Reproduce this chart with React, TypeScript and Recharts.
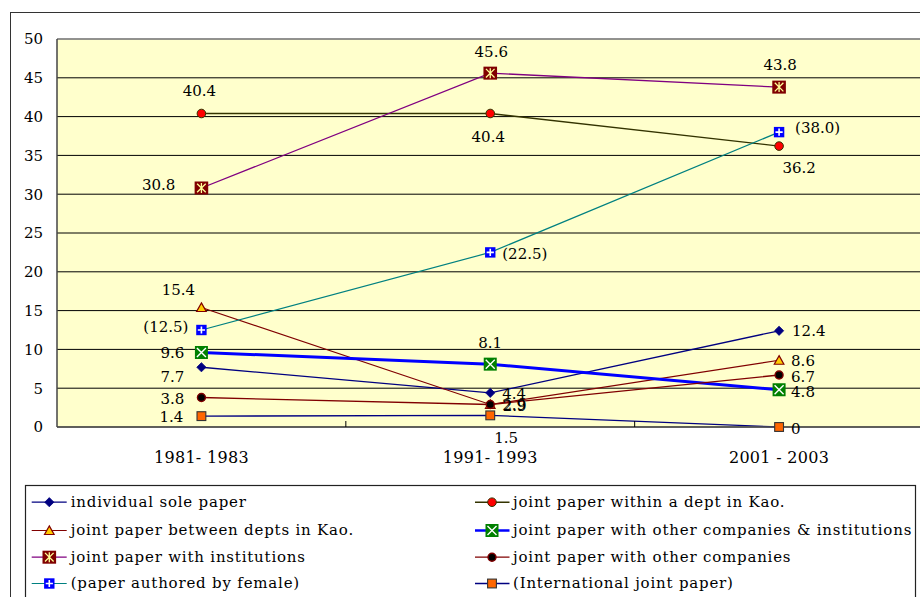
import React from "react";
import { LineChart, Line, XAxis, YAxis, CartesianGrid, ReferenceLine } from "recharts";

// periods on the category axis
const periods = ["1981- 1983", "1991- 1993", "2001 - 2003"];

// share of papers (%) per period
const individualSole = [7.7, 4.4, 12.4];
const withinDept = [40.4, 40.4, 36.2];
const betweenDepts = [15.4, 2.9, 8.6];
const otherCompaniesAndInstitutions = [9.6, 8.1, 4.8];
const withInstitutions = [30.8, 45.6, 43.8];
const otherCompanies = [3.8, 2.9, 6.7];
const femaleAuthored = [12.5, 22.5, 38.0];
const international = [1.4, 1.5, 0];

const yTicks = [0, 5, 10, 15, 20, 25, 30, 35, 40, 45, 50];

const FONT = "'DejaVu Serif', serif";
const W = 940;
const H = 597;
const MARGIN = { top: 39, right: 16.5, bottom: 130, left: 0 };
const Y_AXIS_W = 57;
const BAND = (W - MARGIN.left - MARGIN.right - Y_AXIS_W) / periods.length;

type Shape = "diamond" | "redCircle" | "triangle" | "xSquare" | "starSquare" | "blackCircle" | "plusSquare" | "square";
type Place = { dx: number; dy: number; anchor: "start" | "middle" | "end" };

interface Series {
  key: string;
  name: string;
  values: number[];
  color: string;
  width: number;
  shape: Shape;
  paren?: boolean;
  labels: Place[];
}

const series: Series[] = [
  {
    key: "individual", name: "individual sole paper", values: individualSole,
    color: "#000080", width: 1.3, shape: "diamond",
    labels: [{ dx: -29, dy: 15, anchor: "middle" }, { dx: 12, dy: 6.5, anchor: "start" }, { dx: 13, dy: 5.5, anchor: "start" }],
  },
  {
    key: "withinDept", name: "joint paper within a dept in Kao.", values: withinDept,
    color: "#333300", width: 1.4, shape: "redCircle",
    labels: [{ dx: -2, dy: -17.5, anchor: "middle" }, { dx: -2, dy: 29, anchor: "middle" }, { dx: 20, dy: 26.5, anchor: "middle" }],
  },
  {
    key: "betweenDepts", name: "joint paper between depts in Kao.", values: betweenDepts,
    color: "#800000", width: 1.2, shape: "triangle",
    labels: [{ dx: -23, dy: -12, anchor: "middle" }, { dx: 12, dy: 6, anchor: "start" }, { dx: 12, dy: 6, anchor: "start" }],
  },
  {
    key: "otherCoInst", name: "joint paper with other companies & institutions", values: otherCompaniesAndInstitutions,
    color: "#0000FF", width: 3, shape: "xSquare",
    labels: [{ dx: -17, dy: 5.5, anchor: "end" }, { dx: 0, dy: -16, anchor: "middle" }, { dx: 12, dy: 7, anchor: "start" }],
  },
  {
    key: "institutions", name: "joint paper with institutions", values: withInstitutions,
    color: "#800080", width: 1.3, shape: "starSquare",
    labels: [{ dx: -26, dy: 2.5, anchor: "end" }, { dx: 1, dy: -16, anchor: "middle" }, { dx: 1, dy: -17, anchor: "middle" }],
  },
  {
    key: "otherCompanies", name: "joint paper with other companies", values: otherCompanies,
    color: "#800000", width: 1.3, shape: "blackCircle",
    labels: [{ dx: -17, dy: 6, anchor: "end" }, { dx: 12.5, dy: 6.5, anchor: "start" }, { dx: 12, dy: 6.5, anchor: "start" }],
  },
  {
    key: "female", name: "(paper authored by female)", values: femaleAuthored,
    color: "#008080", width: 1.2, shape: "plusSquare", paren: true,
    labels: [{ dx: -13, dy: 2, anchor: "end" }, { dx: 12, dy: 6.5, anchor: "start" }, { dx: 16, dy: 1, anchor: "start" }],
  },
  {
    key: "international", name: "(International joint paper)", values: international,
    color: "#000080", width: 1.3, shape: "square",
    labels: [{ dx: -18, dy: 6, anchor: "end" }, { dx: 16, dy: 27.5, anchor: "middle" }, { dx: 12, dy: 6.5, anchor: "start" }],
  },
];

const data = periods.map((period, i) => {
  const row: Record<string, string | number> = { period };
  series.forEach((s) => {
    row[s.key] = s.values[i];
  });
  return row;
});

function Marker({ shape, cx, cy }: { shape: Shape; cx: number; cy: number }) {
  switch (shape) {
    case "diamond":
      return (
        <polygon
          points={`${cx},${cy - 4.6} ${cx + 4.6},${cy} ${cx},${cy + 4.6} ${cx - 4.6},${cy}`}
          fill="#000080"
          stroke="#000080"
          strokeWidth={0.8}
        />
      );
    case "redCircle":
      return <circle cx={cx} cy={cy} r={4.3} fill="#FF0000" stroke="#333300" strokeWidth={1} />;
    case "triangle":
      return (
        <polygon
          points={`${cx},${cy - 4.6} ${cx + 4.8},${cy + 4} ${cx - 4.8},${cy + 4}`}
          fill="#FFCC00"
          stroke="#800000"
          strokeWidth={1.2}
        />
      );
    case "xSquare":
      return (
        <g>
          <rect x={cx - 6.5} y={cy - 6.5} width={13} height={13} fill="#008000" />
          <path
            d={`M${cx - 4.5},${cy - 4.5}L${cx + 4.5},${cy + 4.5}M${cx + 4.5},${cy - 4.5}L${cx - 4.5},${cy + 4.5}`}
            stroke="#FFFFFF"
            strokeWidth={1.4}
          />
        </g>
      );
    case "starSquare":
      return (
        <g>
          <rect x={cx - 6.8} y={cy - 6.5} width={13.6} height={13} fill="#800000" />
          <path
            d={`M${cx - 4.3},${cy - 4.3}L${cx + 4.3},${cy + 4.3}M${cx + 4.3},${cy - 4.3}L${cx - 4.3},${cy + 4.3}M${cx},${cy - 5}L${cx},${cy + 5}`}
            stroke="#FFFF99"
            strokeWidth={1.3}
          />
        </g>
      );
    case "blackCircle":
      return <circle cx={cx} cy={cy} r={4} fill="#000000" stroke="#800000" strokeWidth={1.4} />;
    case "plusSquare":
      return (
        <g>
          <rect x={cx - 5.2} y={cy - 5.2} width={10.4} height={10.4} fill="#0000FF" />
          <path
            d={`M${cx - 3.6},${cy}L${cx + 3.6},${cy}M${cx},${cy - 3.6}L${cx},${cy + 3.6}`}
            stroke="#FFFFFF"
            strokeWidth={1.6}
          />
        </g>
      );
    default:
      return (
        <rect x={cx - 4.4} y={cy - 4.4} width={8.8} height={8.8} fill="#FF6600" stroke="#333333" strokeWidth={1.1} />
      );
  }
}

const formatValue = (s: Series, v: number) => {
  const t = v === 0 ? "0" : v.toFixed(1);
  return s.paren ? `(${t})` : t;
};

const makeDot = (s: Series) => (props: any) => {
  const { cx, cy, index } = props;
  if (cx == null || cy == null) return <g key={`${s.key}-${index}`} />;
  const place = s.labels[index];
  return (
    <g key={`${s.key}-${index}`}>
      <Marker shape={s.shape} cx={cx} cy={cy} />
      <text
        x={cx + place.dx}
        y={cy + place.dy}
        textAnchor={place.anchor}
        fontFamily={FONT}
        fontSize={15}
        fill="#000"
      >
        {formatValue(s, s.values[index])}
      </text>
    </g>
  );
};

// category labels centred under each band, tick marks on the band edges pointing inward
const PeriodTick = (props: any) => {
  const { x, y, payload } = props;
  const edge = x + BAND / 2;
  return (
    <g>
      <line x1={edge} y1={y} x2={edge} y2={y - 6} stroke="#000" strokeWidth={1} />
      <text
        x={x}
        y={y + 35.5}
        textAnchor="middle"
        fontFamily={FONT}
        fontSize={16}
        letterSpacing={0.3}
        fill="#000"
      >
        {payload.value}
      </text>
    </g>
  );
};

// two-column legend box below the plot
function LegendBox() {
  const baselines = [506.7, 535, 561.7, 588];
  const cols = [
    { lineFrom: 31.7, lineTo: 66.7, marker: 49.3, text: 70.7 },
    { lineFrom: 475, lineTo: 509.5, marker: 492, text: 513 },
  ];
  return (
    <svg width={920} height={597} style={{ position: "absolute", left: 0, top: 0 }}>
      <rect x={25.5} y={485.5} width={890} height={130} fill="#fff" stroke="#222" strokeWidth={1.2} />
      {series.map((s, i) => {
        const base = baselines[Math.floor(i / 2)];
        const c = cols[i % 2];
        const my = base - 4.5;
        return (
          <g key={s.key}>
            <line x1={c.lineFrom} y1={my} x2={c.lineTo} y2={my} stroke={s.color} strokeWidth={Math.min(s.width, 2.5)} />
            <Marker shape={s.shape} cx={c.marker} cy={my} />
            <text x={c.text} y={base} fontFamily={FONT} fontSize={15} letterSpacing={0.8} fill="#000">
              {s.name}
            </text>
          </g>
        );
      })}
    </svg>
  );
}

export default function App() {
  return (
    <div style={{ position: "absolute", left: 0, top: 0, width: 920, height: 597, overflow: "hidden", background: "#fff" }}>
      <div
        style={{
          position: "absolute",
          left: 10,
          top: 12,
          width: 1000,
          height: 700,
          border: "1.5px solid #333",
        }}
      />
      <div style={{ position: "absolute", left: 0, top: 0 }}>
        <LineChart width={W} height={H} data={data} margin={MARGIN}>
          <CartesianGrid vertical={false} stroke="#000" fill="#FFFFCC" fillOpacity={1} />
          <ReferenceLine y={50} stroke="#999" strokeWidth={1.5} />
          <XAxis
            dataKey="period"
            scale="band"
            height={40}
            tickSize={0}
            tickMargin={0}
            axisLine={{ stroke: "#555", strokeWidth: 1.5 }}
            tickLine={false}
            tick={<PeriodTick />}
            interval={0}
          />
          <YAxis
            width={Y_AXIS_W}
            domain={[0, 50]}
            ticks={yTicks}
            tickSize={0}
            tickMargin={14}
            tickLine={false}
            axisLine={{ stroke: "#444", strokeWidth: 1.5 }}
            tick={{ fontFamily: FONT, fontSize: 15, fill: "#000" }}
          />
          {series.map((s) => (
            <Line
              key={s.key}
              dataKey={s.key}
              name={s.name}
              type="linear"
              stroke={s.color}
              strokeWidth={s.width}
              dot={makeDot(s)}
              activeDot={false}
              isAnimationActive={false}
            />
          ))}
        </LineChart>
      </div>
      <LegendBox />
    </div>
  );
}
